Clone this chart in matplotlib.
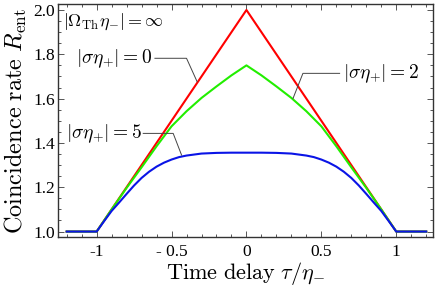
import numpy as np
import matplotlib
matplotlib.use("Agg")
import matplotlib.pyplot as plt
from matplotlib.ticker import MultipleLocator

plt.rcParams["mathtext.fontset"] = "cm"

# values (tau / eta_-, R_ent)
tau_red = [-1.2, -1.0, 0.0, 1.0, 1.2]
r_red = [1.0, 1.0, 2.0, 1.0, 1.0]

tau_green = [-1.2, -1.0, -0.9, -0.8, -0.7, -0.6, -0.5, -0.4, -0.3, -0.2, -0.1, 0.0,
             0.1, 0.2, 0.3, 0.4, 0.5, 0.6, 0.7, 0.8, 0.9, 1.0, 1.2]
r_green = [1.0, 1.0, 1.100, 1.197, 1.290, 1.385, 1.475, 1.543, 1.603, 1.655, 1.705, 1.750,
           1.705, 1.655, 1.603, 1.543, 1.475, 1.385, 1.290, 1.197, 1.100, 1.0, 1.0]

tau_blue = [-1.2, -1.0, -0.95, -0.9, -0.85, -0.8, -0.75, -0.7, -0.65, -0.6, -0.55, -0.5,
            -0.45, -0.4, -0.3, -0.2, -0.1, 0.0, 0.1, 0.2, 0.3, 0.4, 0.45, 0.5, 0.55,
            0.6, 0.65, 0.7, 0.75, 0.8, 0.85, 0.9, 0.95, 1.0, 1.2]
r_blue = [1.0, 1.0, 1.047, 1.093, 1.131, 1.170, 1.208, 1.242, 1.270, 1.293, 1.311, 1.325,
          1.336, 1.343, 1.352, 1.355, 1.356, 1.356, 1.356, 1.355, 1.352, 1.343, 1.336, 1.325, 1.311,
          1.293, 1.270, 1.242, 1.208, 1.170, 1.131, 1.093, 1.047, 1.0, 1.0]

x_ticks = [-1, -0.5, 0, 0.5, 1]
x_ticklabels = ["-1", "- 0.5", "0", "0.5", "1"]
y_ticks = [1.0, 1.2, 1.4, 1.6, 1.8, 2.0]
y_ticklabels = ["1.0", "1.2", "1.4", "1.6", "1.8", "2.0"]

fig = plt.figure(figsize=(4.36, 2.86), dpi=100)
ax = fig.add_axes([0.133, 0.171, 0.860, 0.815])

ax.plot(tau_red, r_red, color="#ff0000", lw=1.5)
ax.plot(tau_green, r_green, color="#22ee00", lw=1.5)
ax.plot(tau_blue, r_blue, color="#0a14e6", lw=1.5)

ax.set_xlim(-1.258, 1.245)
ax.set_ylim(0.975, 2.027)

ax.set_xticks(x_ticks)
ax.set_xticklabels(x_ticklabels, family="Liberation Serif", fontsize=12.5)
ax.set_yticks(y_ticks)
ax.set_yticklabels(y_ticklabels, family="Liberation Serif", fontsize=12.5)
ax.xaxis.set_minor_locator(MultipleLocator(0.1))
ax.yaxis.set_minor_locator(MultipleLocator(0.05))
ax.tick_params(which="both", direction="in", top=True, right=True, color="#555555", width=0.7)
ax.tick_params(which="major", length=4)
ax.tick_params(which="minor", length=2.2)
ax.tick_params(axis="x", pad=5)
ax.tick_params(axis="y", pad=2)
for s in ax.spines.values():
    s.set_color("#333333")
    s.set_linewidth(1.0)

ax.set_xlabel(r"$\mathrm{Time\ delay}\ \tau/\eta_{-}$", fontsize=16, labelpad=0)
ax.set_ylabel(r"$\mathrm{Coincidence\ rate}\ R_{\mathrm{ent}}$", fontsize=17.5, labelpad=3)

# labels with leader lines
lead = dict(color="#444444", lw=0.7)
ax.text(-1.225, 1.946, r"$|\Omega_{\mathrm{Th}}\eta_{-}| = \infty$", fontsize=13, va="center", ha="left")

ax.text(-0.63, 1.782, r"$|\sigma\eta_{+}| = 0$", fontsize=14, va="center", ha="right")
ax.plot([-0.611, -0.40, -0.329], [1.782, 1.782, 1.676], **lead)

ax.text(0.644, 1.714, r"$|\sigma\eta_{+}| = 2$", fontsize=14, va="center", ha="left")
ax.plot([0.622, 0.377, 0.311], [1.714, 1.714, 1.601], **lead)

ax.text(-0.70, 1.443, r"$|\sigma\eta_{+}| = 5$", fontsize=14, va="center", ha="right")
ax.plot([-0.689, -0.489, -0.433], [1.443, 1.443, 1.345], **lead)

fig.savefig("out.png", dpi=100)
